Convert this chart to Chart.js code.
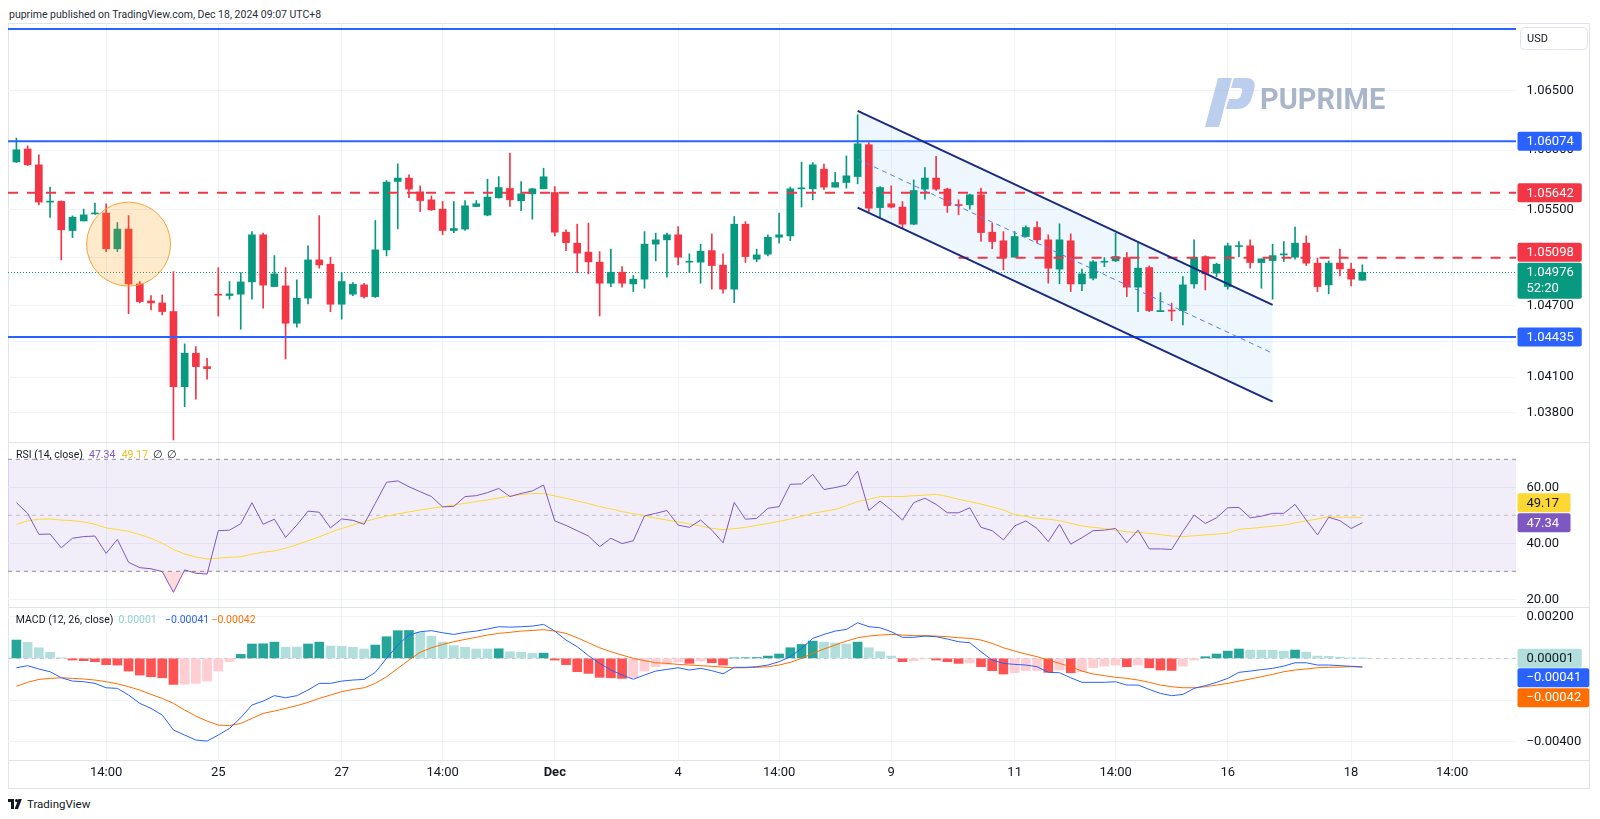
<!DOCTYPE html>
<html>
<head>
<meta charset="utf-8">
<title>EURUSD 4H</title>
<script src="https://cdn.jsdelivr.net/npm/chart.js@4.4.1/dist/chart.umd.min.js"></script>
<style>
  html, body { margin: 0; padding: 0; background: #fff; }
  #wrap { position: relative; width: 1600px; height: 819px; overflow: hidden; font-family: Roboto, "Noto Sans", sans-serif; }
  #wrap canvas { position: absolute; left: 0; }
  .t { position: absolute; white-space: nowrap; color: #131722; }
</style>
</head>
<body>
<div id="wrap">
  <div class="t" style="left:9px;top:8px;font-size:10.5px;color:#2a2e39">puprime published on TradingView.com, Dec 18, 2024 09:07 UTC+8</div>
  <div style="position:absolute;left:8px;top:23px;width:1582px;height:766px;box-sizing:border-box;border:1px solid #e0e3eb"></div>
  <canvas id="priceCv" width="1600" height="419" style="top:23px"></canvas>
  <canvas id="rsiCv" width="1600" height="165" style="top:442px"></canvas>
  <canvas id="macdCv" width="1600" height="181" style="top:607px"></canvas>
  <svg style="position:absolute;left:8px;top:799px" width="16" height="10" viewBox="0 0 16 10">
    <path d="M0 0h6v10H3V3H0z" fill="#131722"/><circle cx="8.6" cy="1.6" r="1.6" fill="#131722"/>
    <path d="M10.5 0h3.4L10 10H6.6z" fill="#131722"/>
  </svg>
  <div class="t" style="left:27px;top:797px;font-size:11.5px">TradingView</div>
</div>
<script>
// ---- data (4h candles, EURUSD) ----
const opens = [
  1.05900, 1.06008, 1.05876, 1.05564, 1.05570, 1.05326, 1.05406, 1.05465, 1.05472, 1.05173,
  1.05338, 1.04879, 1.04737, 1.04720, 1.04648, 1.04019, 1.04299, 1.04187, 1.04790, 1.04782,
  1.04793, 1.04896, 1.05290, 1.04857, 1.04863, 1.04550, 1.04760, 1.05080, 1.05044, 1.04709,
  1.04793, 1.04871, 1.04773, 1.05164, 1.05737, 1.05765, 1.05650, 1.05583, 1.05505, 1.05326,
  1.05338, 1.05527, 1.05455, 1.05600, 1.05678, 1.05575, 1.05633, 1.05675, 1.05644, 1.05312,
  1.05220, 1.05145, 1.05061, 1.04885, 1.04977, 1.04879, 1.04919, 1.05212, 1.05248, 1.05290,
  1.05061, 1.05061, 1.05158, 1.05036, 1.04835, 1.05379, 1.05086, 1.05128, 1.05270, 1.05281,
  1.05675, 1.05675, 1.05840, 1.05689, 1.05728, 1.05778, 1.06044, 1.05518, 1.05550, 1.05522,
  1.05379, 1.05673, 1.05765, 1.05673, 1.05541, 1.05541, 1.05625, 1.05312, 1.05240, 1.05103,
  1.05276, 1.05351, 1.05248, 1.05003, 1.05240, 1.04879, 1.04927, 1.05061, 1.05072, 1.05100,
  1.04852, 1.05016, 1.04647, 1.04660, 1.04656, 1.04879, 1.05108, 1.04969, 1.04857, 1.05192,
  1.05198, 1.05058, 1.05075, 1.05122, 1.05103, 1.05220, 1.05053, 1.04871, 1.05053, 1.05003,
  1.04910];
const highs = [
  1.06100, 1.06035, 1.05960, 1.05689, 1.05575, 1.05449, 1.05505, 1.05555, 1.05550, 1.05393,
  1.05451, 1.04899, 1.04781, 1.04787, 1.04982, 1.04377, 1.04354, 1.04257, 1.05015, 1.04899,
  1.04974, 1.05318, 1.05304, 1.05116, 1.05016, 1.04913, 1.05198, 1.05451, 1.05103, 1.04974,
  1.04890, 1.04885, 1.05410, 1.05745, 1.05884, 1.05792, 1.05700, 1.05616, 1.05569, 1.05569,
  1.05577, 1.05577, 1.05756, 1.05778, 1.05974, 1.05736, 1.05680, 1.05848, 1.05694, 1.05332,
  1.05379, 1.05388, 1.05150, 1.05170, 1.05024, 1.04949, 1.05317, 1.05304, 1.05304, 1.05359,
  1.05131, 1.05212, 1.05298, 1.05131, 1.05443, 1.05401, 1.05170, 1.05290, 1.05472, 1.05690,
  1.05899, 1.05895, 1.05882, 1.05812, 1.05951, 1.06295, 1.06063, 1.05694, 1.05700, 1.05569,
  1.05750, 1.05853, 1.05946, 1.05681, 1.05583, 1.05631, 1.05681, 1.05388, 1.05317, 1.05317,
  1.05365, 1.05401, 1.05290, 1.05382, 1.05298, 1.05003, 1.05075, 1.05100, 1.05304, 1.05142,
  1.05220, 1.05030, 1.04807, 1.04718, 1.04941, 1.05248, 1.05115, 1.05053, 1.05220, 1.05234,
  1.05248, 1.05089, 1.05212, 1.05234, 1.05354, 1.05281, 1.05095, 1.05072, 1.05170, 1.05053,
  1.05039];
const lows = [
  1.05895, 1.05870, 1.05540, 1.05435, 1.05080, 1.05267, 1.05406, 1.05460, 1.05150, 1.05150,
  1.04630, 1.04720, 1.04662, 1.04620, 1.03573, 1.03852, 1.03914, 1.04081, 1.04610, 1.04751,
  1.04500, 1.04751, 1.04676, 1.04857, 1.04251, 1.04517, 1.04712, 1.05011, 1.04647, 1.04584,
  1.04780, 1.04760, 1.04765, 1.05114, 1.05340, 1.05602, 1.05485, 1.05495, 1.05290, 1.05309,
  1.05326, 1.05527, 1.05449, 1.05597, 1.05527, 1.05493, 1.05421, 1.05675, 1.05281, 1.05158,
  1.04974, 1.04963, 1.04611, 1.04857, 1.04852, 1.04815, 1.04843, 1.05072, 1.04935, 1.05039,
  1.04974, 1.04885, 1.04835, 1.04802, 1.04723, 1.05058, 1.05064, 1.05114, 1.05220, 1.05242,
  1.05522, 1.05583, 1.05667, 1.05689, 1.05681, 1.05717, 1.05485, 1.05438, 1.05515, 1.05346,
  1.05375, 1.05589, 1.05661, 1.05477, 1.05457, 1.05505, 1.05234, 1.05173, 1.04997, 1.05103,
  1.05270, 1.05220, 1.04885, 1.04880, 1.04815, 1.04823, 1.04913, 1.05024, 1.05066, 1.04773,
  1.04647, 1.04647, 1.04647, 1.04572, 1.04536, 1.04843, 1.04829, 1.04941, 1.04835, 1.05108,
  1.05011, 1.04843, 1.04751, 1.05066, 1.05086, 1.05033, 1.04815, 1.04796, 1.04946, 1.04863,
  1.04910];
const closes = [
  1.06002, 1.05876, 1.05564, 1.05572, 1.05332, 1.05438, 1.05457, 1.05470, 1.05173, 1.05338,
  1.04879, 1.04731, 1.04720, 1.04648, 1.04019, 1.04299, 1.04187, 1.04170, 1.04785, 1.04796,
  1.04896, 1.05290, 1.04869, 1.04963, 1.04550, 1.04760, 1.05080, 1.05038, 1.04709, 1.04899,
  1.04877, 1.04773, 1.05164, 1.05731, 1.05765, 1.05673, 1.05577, 1.05499, 1.05326, 1.05343,
  1.05533, 1.05550, 1.05606, 1.05686, 1.05583, 1.05633, 1.05675, 1.05776, 1.05312, 1.05225,
  1.05137, 1.05064, 1.04885, 1.04977, 1.04885, 1.04919, 1.05212, 1.05248, 1.05290, 1.05103,
  1.05069, 1.05153, 1.05033, 1.04835, 1.05379, 1.05108, 1.05122, 1.05270, 1.05290, 1.05675,
  1.05681, 1.05876, 1.05689, 1.05728, 1.05784, 1.06052, 1.05513, 1.05686, 1.05522, 1.05379,
  1.05661, 1.05765, 1.05673, 1.05535, 1.05535, 1.05625, 1.05309, 1.05234, 1.05103, 1.05276,
  1.05351, 1.05248, 1.05011, 1.05248, 1.04879, 1.04963, 1.05064, 1.05067, 1.05108, 1.04852,
  1.05011, 1.04656, 1.04656, 1.04652, 1.04871, 1.05103, 1.04963, 1.05044, 1.05198, 1.05198,
  1.05058, 1.05089, 1.05116, 1.05128, 1.05220, 1.05053, 1.04857, 1.05053, 1.05005, 1.04919,
  1.04976];

const rsi = [
  54.5, 50.7, 43.2, 43.3, 38.4, 41.8, 42.4, 42.6, 36.4, 41.4,
  33.2, 31.3, 30.9, 29.9, 22.5, 30.5, 29.3, 29.0, 44.5, 44.7,
  47.0, 54.5, 46.8, 48.6, 42.1, 46.5, 51.5, 51.1, 45.5, 48.7,
  48.2, 46.8, 54.3, 61.8, 62.3, 60.2, 58.4, 56.7, 53.0, 53.2,
  56.7, 57.0, 58.1, 59.6, 56.7, 57.8, 58.7, 60.8, 48.0, 46.4,
  44.5, 42.6, 38.8, 41.8, 39.9, 40.9, 49.8, 50.7, 51.7, 46.5,
  45.7, 48.3, 44.7, 40.2, 54.6, 48.6, 48.9, 52.5, 53.1, 61.1,
  61.2, 64.6, 59.2, 59.9, 60.8, 65.8, 51.7, 55.1, 51.9, 48.3,
  54.5, 56.1, 53.9, 50.9, 50.9, 52.7, 45.7, 44.5, 41.2, 46.2,
  48.0, 45.3, 40.6, 46.8, 39.7, 42.0, 44.5, 44.7, 45.3, 40.2,
  44.7, 38.0, 38.0, 37.8, 44.2, 50.1, 47.1, 49.1, 52.7, 52.8,
  49.1, 49.7, 50.7, 50.7, 53.9, 48.3, 43.0, 49.3, 48.1, 45.3,
  47.34];
const rsiMa = [
  46.8, 48.0, 48.6, 48.7, 48.3, 48.1, 47.6, 46.8, 45.5, 44.9,
  44.3, 43.1, 41.8, 40.0, 37.8, 36.2, 35.1, 34.4, 34.7, 35.0,
  35.2, 36.1, 36.8, 37.3, 38.2, 39.5, 40.9, 42.3, 43.9, 45.3,
  46.5, 47.7, 48.8, 49.7, 50.5, 51.2, 51.9, 52.5, 53.1, 53.7,
  54.3, 54.9, 55.5, 56.2, 56.9, 57.4, 57.8, 57.8, 56.9, 56.1,
  55.1, 54.2, 53.1, 52.3, 51.3, 50.6, 49.8, 49.0, 48.3, 47.6,
  46.9, 46.2, 45.3, 44.9, 45.2, 45.7, 46.4, 47.1, 47.8, 48.7,
  49.6, 50.7, 51.4, 52.1, 53.4, 54.9, 55.7, 56.7, 56.7, 56.7,
  57.0, 57.2, 57.5, 56.7, 55.7, 54.9, 54.0, 53.0, 51.9, 50.2,
  49.6, 48.9, 48.6, 48.1, 47.1, 46.2, 45.7, 45.3, 44.7, 44.1,
  43.8, 43.6, 43.1, 42.6, 42.4, 42.7, 43.0, 43.3, 43.6, 45.0,
  45.3, 45.7, 46.1, 46.5, 47.3, 48.0, 48.7, 49.5, 49.3, 49.3,
  49.17];

const macdHist = [
  0.00088, 0.00077, 0.00051, 0.00029, 0.00003, -0.00008, -0.00011, -0.00016, -0.00030, -0.00032,
  -0.00061, -0.00080, -0.00088, -0.00093, -0.00125, -0.00124, -0.00120, -0.00109, -0.00061, -0.00016,
  0.00019, 0.00069, 0.00070, 0.00078, 0.00054, 0.00054, 0.00069, 0.00078, 0.00059, 0.00058,
  0.00053, 0.00045, 0.00064, 0.00104, 0.00133, 0.00134, 0.00125, 0.00107, 0.00078, 0.00061,
  0.00053, 0.00045, 0.00045, 0.00046, 0.00032, 0.00029, 0.00024, 0.00025, -0.00008, -0.00030,
  -0.00064, -0.00072, -0.00091, -0.00093, -0.00096, -0.00091, -0.00061, -0.00040, -0.00029, -0.00016,
  -0.00024, -0.00013, -0.00021, -0.00032, 0.00002, 0.00003, 0.00004, 0.00011, 0.00021, 0.00051,
  0.00067, 0.00083, 0.00078, 0.00074, 0.00069, 0.00078, 0.00051, 0.00032, 0.00011, -0.00016,
  -0.00011, -0.00002, -0.00008, -0.00016, -0.00024, -0.00022, -0.00040, -0.00059, -0.00075, -0.00069,
  -0.00059, -0.00058, -0.00067, -0.00056, -0.00069, -0.00064, -0.00045, -0.00037, -0.00032, -0.00040,
  -0.00032, -0.00045, -0.00056, -0.00058, -0.00037, -0.00008, 0.00008, 0.00021, 0.00035, 0.00045,
  0.00040, 0.00040, 0.00039, 0.00035, 0.00040, 0.00030, 0.00011, 0.00010, 0.00006, 0.00002,
  0.00001];
const macdLine = [
  -0.00045, -0.00035, -0.00051, -0.00064, -0.00093, -0.00109, -0.00112, -0.00120, -0.00141, -0.00144,
  -0.00176, -0.00216, -0.00240, -0.00272, -0.00344, -0.00368, -0.00392, -0.00397, -0.00368, -0.00336,
  -0.00285, -0.00224, -0.00205, -0.00179, -0.00189, -0.00179, -0.00152, -0.00120, -0.00120, -0.00109,
  -0.00104, -0.00101, -0.00067, 0.00000, 0.00064, 0.00112, 0.00128, 0.00133, 0.00123, 0.00115,
  0.00125, 0.00131, 0.00141, 0.00152, 0.00150, 0.00152, 0.00155, 0.00163, 0.00131, 0.00088,
  0.00056, 0.00013, -0.00024, -0.00056, -0.00080, -0.00100, -0.00080, -0.00061, -0.00053, -0.00045,
  -0.00056, -0.00048, -0.00059, -0.00074, -0.00043, -0.00043, -0.00040, -0.00032, -0.00016, 0.00008,
  0.00048, 0.00096, 0.00115, 0.00131, 0.00139, 0.00171, 0.00152, 0.00147, 0.00128, 0.00101,
  0.00101, 0.00107, 0.00104, 0.00093, 0.00080, 0.00075, 0.00032, -0.00008, -0.00024, -0.00029,
  -0.00032, -0.00040, -0.00067, -0.00069, -0.00093, -0.00115, -0.00115, -0.00115, -0.00112, -0.00128,
  -0.00128, -0.00149, -0.00168, -0.00179, -0.00173, -0.00144, -0.00131, -0.00115, -0.00096, -0.00067,
  -0.00061, -0.00054, -0.00048, -0.00037, -0.00021, -0.00021, -0.00032, -0.00032, -0.00035, -0.00038,
  -0.00041];
const signalLine = [
  -0.00134, -0.00115, -0.00101, -0.00096, -0.00093, -0.00096, -0.00099, -0.00104, -0.00112, -0.00122,
  -0.00136, -0.00152, -0.00173, -0.00192, -0.00216, -0.00248, -0.00277, -0.00301, -0.00320, -0.00323,
  -0.00312, -0.00288, -0.00264, -0.00253, -0.00240, -0.00227, -0.00211, -0.00192, -0.00176, -0.00160,
  -0.00149, -0.00141, -0.00120, -0.00088, -0.00048, -0.00008, 0.00029, 0.00051, 0.00067, 0.00080,
  0.00091, 0.00101, 0.00112, 0.00120, 0.00125, 0.00131, 0.00134, 0.00138, 0.00131, 0.00120,
  0.00099, 0.00075, 0.00051, 0.00032, 0.00016, 0.00000, -0.00011, -0.00021, -0.00024, -0.00029,
  -0.00032, -0.00035, -0.00038, -0.00042, -0.00045, -0.00045, -0.00043, -0.00040, -0.00032, -0.00019,
  0.00000, 0.00024, 0.00045, 0.00064, 0.00083, 0.00099, 0.00107, 0.00112, 0.00115, 0.00112,
  0.00109, 0.00109, 0.00107, 0.00104, 0.00099, 0.00096, 0.00088, 0.00072, 0.00051, 0.00035,
  0.00021, 0.00008, -0.00008, -0.00024, -0.00040, -0.00061, -0.00075, -0.00083, -0.00091, -0.00096,
  -0.00104, -0.00115, -0.00128, -0.00136, -0.00141, -0.00141, -0.00136, -0.00128, -0.00120, -0.00109,
  -0.00099, -0.00088, -0.00077, -0.00064, -0.00056, -0.00051, -0.00045, -0.00043, -0.00042, -0.00040,
  -0.00042];

// time axis: bar index of each label
const xTickIdx = [8, 18, 29, 38, 48, 59, 68, 78, 89, 98, 108, 119, 128];
const xTickLabels = ['14:00', '25', '27', '14:00', 'Dec', '4', '14:00', '9', '11', '14:00', '16', '18', '14:00'];
const priceTicks = [1.038, 1.041, 1.044, 1.047, 1.051, 1.055, 1.060, 1.065];
const rsiTicks = [20, 40, 60];
const macdTicks = [-0.004, -0.002, 0, 0.002];

// drawings on the price pane
const solidLevels = [1.07013, 1.06074, 1.04435];
const dashedLevels = [1.05642, 1.05098];
const dashedFrom = [null, 84];
const channelX = [75, 112];
const channelTop = [1.06328, 1.04704];
const channelBottom = [1.05518, 1.03894];
const circleAt = [10, 1.05212];
const rsiBand = [70, 50, 30];
const countdown = '52:20';

// ---- helpers ----
const UP = '#089981', DOWN = '#F23645', GRID = '#F0F3FA';
const FONT = 'Roboto, "Noto Sans", sans-serif';
Chart.defaults.font.family = FONT;
const xMin = -0.75, xMax = 133.7;
const last = closes.length - 1;
const minus = v => v < 0 ? '\u2212' + Math.abs(v).toFixed(5) : v.toFixed(5);

function xScale(showLabels) {
  return {
    type: 'linear', min: xMin, max: xMax, offset: false,
    grid: { color: GRID, drawTicks: false, offset: false },
    border: { display: false },
    ticks: {
      display: showLabels, autoSkip: false, maxRotation: 0, padding: 5, color: '#131722',
      font: c => ({ family: FONT, size: 13, weight: xTickLabels[c.index] === 'Dec' ? 'bold' : 'normal' }),
      callback: (v, i) => xTickLabels[i]
    },
    afterBuildTicks: s => { s.ticks = xTickIdx.map(v => ({ value: v })); },
    afterFit: s => { s.height = showLabels ? 28 : 0; s.paddingLeft = 0; s.paddingRight = 0; }
  };
}
function yScale(min, max, ticks, fmt) {
  return {
    type: 'linear', position: 'right', min, max,
    grid: { color: GRID, drawTicks: false },
    border: { display: false },
    ticks: { autoSkip: false, padding: 10.5, color: '#131722', font: { size: 13 }, callback: fmt },
    afterBuildTicks: s => { s.ticks = ticks.map(v => ({ value: v })); },
    afterFit: s => { s.width = 84; s.paddingTop = 0; s.paddingBottom = 0; }
  };
}
function baseOptions(x, y) {
  return {
    responsive: false, animation: false, events: [],
    layout: { padding: { left: 8, right: 0, top: 0, bottom: 0 }, autoPadding: false },
    plugins: { legend: { display: false }, tooltip: { enabled: false } },
    scales: { x, y }
  };
}
function line(ctx, x0, y0, x1, y1, color, w, dash) {
  ctx.save();
  ctx.strokeStyle = color; ctx.lineWidth = w; ctx.setLineDash(dash || []);
  ctx.beginPath(); ctx.moveTo(x0, y0); ctx.lineTo(x1, y1); ctx.stroke();
  ctx.restore();
}
function tag(ctx, yc, lines, bg, fg, minW) {
  ctx.save();
  ctx.font = '13px ' + FONT;
  const w = Math.max(minW || 62.5, ...lines.map(t => ctx.measureText(t).width + 17));
  const h = lines.length > 1 ? 36 : 19;
  ctx.fillStyle = bg;
  ctx.beginPath(); ctx.roundRect(1517.5, yc - 9.5, w, h, 2); ctx.fill();
  ctx.fillStyle = fg; ctx.textAlign = 'left'; ctx.textBaseline = 'middle';
  lines.forEach((t, k) => ctx.fillText(t, 1526.5, yc + 0.5 + k * 15.5));
  ctx.restore();
}
function sep(ctx, y) {
  ctx.fillStyle = '#E0E3EB';
  ctx.fillRect(8, y, 1582, 1);
}
function texts(ctx, y, items) {
  ctx.save();
  ctx.font = '10.5px ' + FONT; ctx.textBaseline = 'middle'; ctx.textAlign = 'left';
  items.forEach(([t, x, c]) => { ctx.fillStyle = c; ctx.fillText(t, x, y); });
  ctx.restore();
}

// ---- price pane ----
const priceDrawings = {
  id: 'priceDrawings',
  beforeDatasetsDraw(chart) {
    const { ctx, chartArea: a, scales: { x, y } } = chart;
    const X0 = x.getPixelForValue(channelX[0]), X1 = x.getPixelForValue(channelX[1]);
    ctx.save();
    ctx.fillStyle = 'rgba(33,150,243,0.08)';
    ctx.beginPath();
    ctx.moveTo(X0, y.getPixelForValue(channelTop[0]));
    ctx.lineTo(X1, y.getPixelForValue(channelTop[1]));
    ctx.lineTo(X1, y.getPixelForValue(channelBottom[1]));
    ctx.lineTo(X0, y.getPixelForValue(channelBottom[0]));
    ctx.closePath(); ctx.fill();
    ctx.restore();
    const yc = Math.round(y.getPixelForValue(closes[last])) + 0.5;
    line(ctx, a.left, yc, a.right, yc, UP, 1, [1, 2]);
  },
  afterDatasetsDraw(chart) {
    const { ctx, chartArea: a, scales: { x, y } } = chart;
    solidLevels.forEach(p => { const yy = y.getPixelForValue(p); line(ctx, a.left, yy, a.right, yy, '#2962FF', 2); });
    dashedLevels.forEach((p, i) => {
      const yy = y.getPixelForValue(p);
      const x0 = dashedFrom[i] == null ? a.left : x.getPixelForValue(dashedFrom[i]);
      line(ctx, x0, yy, a.right, yy, DOWN, 2, [10, 9]);
    });
    const X0 = x.getPixelForValue(channelX[0]), X1 = x.getPixelForValue(channelX[1]);
    const t0 = y.getPixelForValue(channelTop[0]), t1 = y.getPixelForValue(channelTop[1]);
    const b0 = y.getPixelForValue(channelBottom[0]), b1 = y.getPixelForValue(channelBottom[1]);
    line(ctx, X0, (t0 + b0) / 2, X1, (t1 + b1) / 2, '#5B7CF0', 1, [5, 4]);
    line(ctx, X0, t0, X1, t1, '#1A2A80', 2);
    line(ctx, X0, b0, X1, b1, '#1A2A80', 2);
    // circle marker
    ctx.save();
    ctx.beginPath();
    ctx.arc(x.getPixelForValue(circleAt[0]), y.getPixelForValue(circleAt[1]), 42, 0, Math.PI * 2);
    ctx.fillStyle = 'rgba(255,152,0,0.2)'; ctx.fill();
    ctx.strokeStyle = '#F9A33A'; ctx.lineWidth = 1; ctx.stroke();
    ctx.restore();
  },
  afterDraw(chart) {
    const { ctx, scales: { y } } = chart;
    // watermark
    ctx.save();
    ctx.fillStyle = 'rgba(150,180,228,0.65)';
    ctx.beginPath();
    ctx.moveTo(1205, 104); ctx.lineTo(1218, 55); ctx.lineTo(1232, 55); ctx.lineTo(1219, 104); ctx.closePath(); ctx.fill();
    ctx.beginPath();
    ctx.moveTo(1234, 55); ctx.lineTo(1246, 55); ctx.quadraticCurveTo(1257, 55, 1254, 67);
    ctx.lineTo(1252, 74); ctx.quadraticCurveTo(1249, 86, 1237, 86); ctx.lineTo(1226, 86);
    ctx.lineTo(1229, 76); ctx.lineTo(1236, 76); ctx.quadraticCurveTo(1240, 76, 1241, 72);
    ctx.lineTo(1242, 68); ctx.quadraticCurveTo(1243, 65, 1239, 65); ctx.lineTo(1231, 65); ctx.closePath(); ctx.fill();
    ctx.fillStyle = '#A9B6C9';
    ctx.font = 'bold 29px ' + FONT; ctx.textBaseline = 'middle';
    ctx.fillText('PUPRIME', 1260, 79);
    // currency box
    ctx.strokeStyle = '#E0E3EB'; ctx.lineWidth = 1;
    ctx.beginPath(); ctx.roundRect(1520.5, 4.5, 67, 22, 4); ctx.stroke();
    ctx.fillStyle = '#131722'; ctx.font = '11px ' + FONT;
    ctx.fillText('USD', 1527, 16);
    ctx.restore();
    // price tags
    const yLast = y.getPixelForValue(closes[last]);
    tag(ctx, y.getPixelForValue(solidLevels[1]), [solidLevels[1].toFixed(5)], '#2962FF', '#fff');
    tag(ctx, y.getPixelForValue(dashedLevels[0]), [dashedLevels[0].toFixed(5)], DOWN, '#fff');
    tag(ctx, Math.min(y.getPixelForValue(dashedLevels[1]), yLast - 20), [dashedLevels[1].toFixed(5)], DOWN, '#fff');
    tag(ctx, yLast, [closes[last].toFixed(5), countdown], UP, '#fff');
    tag(ctx, y.getPixelForValue(solidLevels[2]), [solidLevels[2].toFixed(5)], '#2962FF', '#fff');
  }
};

const candleColors = closes.map((c, i) => c >= opens[i] ? UP : DOWN);
new Chart(document.getElementById('priceCv'), {
  type: 'bar',
  data: {
    datasets: [
      { data: opens.map((o, i) => ({ x: i, y: [o, closes[i]] })), backgroundColor: candleColors,
        barThickness: 7, minBarLength: 1, grouped: false, order: 0 },
      { data: lows.map((l, i) => ({ x: i, y: [l, highs[i]] })), backgroundColor: candleColors,
        barThickness: 1, grouped: false, order: 1 }
    ]
  },
  options: baseOptions(xScale(false), yScale(1.03556, 1.07063, priceTicks, v => v.toFixed(5))),
  plugins: [priceDrawings]
});

// ---- RSI pane ----
const rsiDrawings = {
  id: 'rsiDrawings',
  beforeDatasetsDraw(chart) {
    const { ctx, chartArea: a, scales: { y } } = chart;
    const y70 = y.getPixelForValue(rsiBand[0]), y50 = y.getPixelForValue(rsiBand[1]), y30 = y.getPixelForValue(rsiBand[2]);
    ctx.fillStyle = 'rgba(126,87,194,0.1)';
    ctx.fillRect(a.left, y70, a.right - a.left, y30 - y70);
    line(ctx, a.left, y70, a.right, y70, '#8E8F9A', 1, [4, 4]);
    line(ctx, a.left, y50, a.right, y50, 'rgba(142,143,154,0.5)', 1, [4, 4]);
    line(ctx, a.left, y30, a.right, y30, '#8E8F9A', 1, [4, 4]);
  },
  afterDraw(chart) {
    const { ctx, scales: { y } } = chart;
    sep(ctx, 0);
    texts(ctx, 13, [['RSI (14, close)', 16, '#131722'], [rsi[last].toFixed(2), 89, '#7E57C2'],
      [rsiMa[last].toFixed(2), 121.7, '#F2C21B'], ['\u2205', 153, '#131722'], ['\u2205', 166.7, '#131722']]);
    const yp = y.getPixelForValue(rsi[last]);
    tag(ctx, yp, [rsi[last].toFixed(2)], '#7E57C2', '#fff', 53);
    tag(ctx, Math.min(y.getPixelForValue(rsiMa[last]), yp - 20), [rsiMa[last].toFixed(2)], '#FDD835', '#131722', 53);
  }
};
new Chart(document.getElementById('rsiCv'), {
  type: 'line',
  data: {
    datasets: [
      { data: rsi.map((v, i) => ({ x: i, y: v })), borderColor: '#7E57C2', borderWidth: 1, pointRadius: 0,
        fill: { target: { value: 30 }, above: 'rgba(0,0,0,0)', below: 'rgba(242,54,69,0.18)' }, order: 0 },
      { data: rsiMa.map((v, i) => ({ x: i, y: v })), borderColor: '#FDD835', borderWidth: 1, pointRadius: 0, fill: false, order: 1 }
    ]
  },
  options: baseOptions(xScale(false), yScale(17.25, 76.18, rsiTicks, v => v.toFixed(2))),
  plugins: [rsiDrawings]
});

// ---- MACD pane ----
const histColors = macdHist.map((v, i) => {
  const p = i ? macdHist[i - 1] : v;
  if (v >= 0) return (i === 0 || v > p) ? '#26A69A' : '#B2DFDB';
  return v < p ? '#FF5252' : '#FFCDD2';
});
const macdDrawings = {
  id: 'macdDrawings',
  beforeDatasetsDraw(chart) {
    const { ctx, chartArea: a, scales: { y } } = chart;
    const y0 = y.getPixelForValue(0);
    line(ctx, a.left, y0, a.right, y0, '#C3C5CC', 1, [4, 4]);
  },
  afterDraw(chart) {
    const { ctx, chartArea: a, scales: { y } } = chart;
    sep(ctx, 0);
    sep(ctx, a.bottom);
    texts(ctx, 13, [['MACD (12, 26, close)', 15.8, '#131722'], [minus(macdHist[last]), 118.6, '#8FD2CB'],
      [minus(macdLine[last]), 165, '#2962FF'], [minus(signalLine[last]), 211.4, '#FF6D00']]);
    const yh = y.getPixelForValue(macdHist[last]);
    tag(ctx, yh, [minus(macdHist[last])], '#B2DFDB', '#131722');
    const ym = Math.max(y.getPixelForValue(macdLine[last]), yh + 19.5);
    tag(ctx, ym, [minus(macdLine[last])], '#2962FF', '#fff');
    tag(ctx, Math.max(y.getPixelForValue(signalLine[last]), ym + 20), [minus(signalLine[last])], '#FF6D00', '#fff');
  }
};
new Chart(document.getElementById('macdCv'), {
  type: 'bar',
  data: {
    datasets: [
      { type: 'line', data: macdLine.map((v, i) => ({ x: i, y: v })), borderColor: '#2962FF', borderWidth: 1, pointRadius: 0, order: 0 },
      { type: 'line', data: signalLine.map((v, i) => ({ x: i, y: v })), borderColor: '#FF6D00', borderWidth: 1, pointRadius: 0, order: 1 },
      { data: macdHist.map((v, i) => ({ x: i, y: v })), backgroundColor: histColors, barThickness: 9, grouped: false, order: 2 }
    ]
  },
  options: baseOptions(xScale(true), yScale(-0.004878, 0.002466, macdTicks, v => minus(v))),
  plugins: [macdDrawings]
});
</script>
</body>
</html>
